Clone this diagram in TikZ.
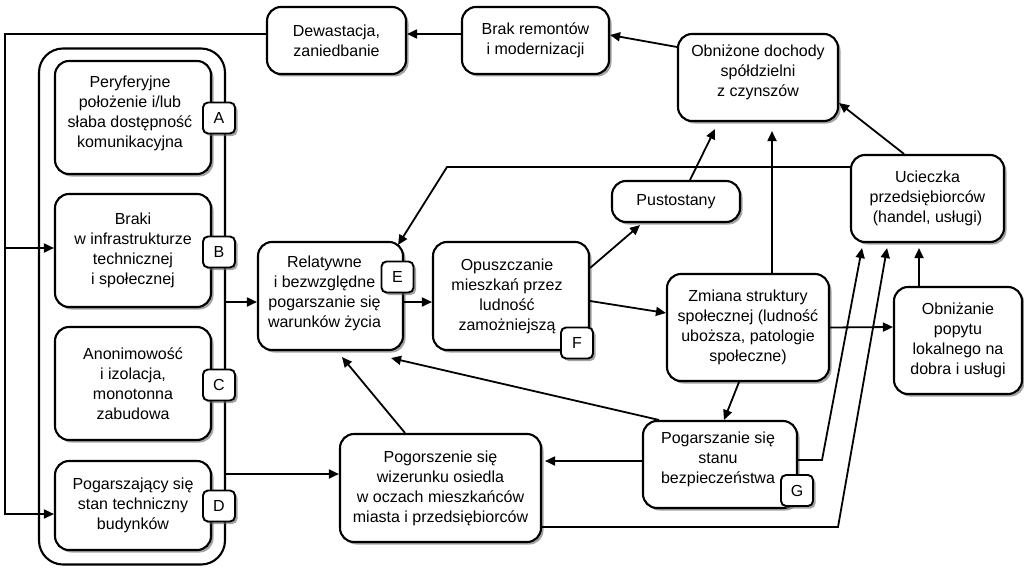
\documentclass[tikz,border=0pt]{standalone}
\usepackage{fontspec}
\setmainfont{Liberation Sans}
\usetikzlibrary{shadows,arrows.meta,calc}
\begin{document}
\begin{tikzpicture}[x=1pt,y=-1pt,
  txt/.style={font=\fontsize{16}{20}\selectfont},
  shad/.style={drop shadow={shadow xshift=2.5pt,shadow yshift=-2.5pt,fill=black!60,opacity=0.6}},
  box/.style={draw,line width=2.1pt,rounded corners=14pt,fill=white,align=center,inner sep=2pt,txt,shad},
  badge/.style={draw,line width=1.9pt,rounded corners=5pt,fill=white,minimum width=32pt,minimum height=31pt,inner sep=0pt,txt,shad},
  lbl/.style={txt,align=center,inner sep=0pt},
  conn/.style={line width=1.8pt},
  arr/.style={conn,-{Triangle[length=10pt,width=9pt]}}]
\useasboundingbox (0,0) rectangle (1024,567);
\fill[white] (0,0) rectangle (1024,567);

% left container
\node[draw,line width=2.1pt,rounded corners=24pt,minimum width=186pt,minimum height=516pt,inner sep=0pt] (cont) at (132,306.5) {};

\node[box,minimum width=156pt,minimum height=113pt] (A) at (133,117.5) {};
\node[lbl] at ([xshift=-3pt,yshift=4pt]A.center) {Peryferyjne\\ położenie i/lub\\ słaba dostępność\\ komunikacyjna};
\node[box,minimum width=156pt,minimum height=113pt] (B) at (133,250.5) {Braki\\ w infrastrukturze\\ technicznej\\ i społecznej};
\node[box,minimum width=156pt,minimum height=113pt] (C) at (133,383.5) {Anonimowość\\ i izolacja,\\ monotonna\\ zabudowa};
\node[box,minimum width=156pt,minimum height=89pt] (D) at (133,505.5) {Pogarszający się\\ stan techniczny\\ budynków};
\node[badge] (bA) at (219,118) {A};
\node[badge] (bB) at (219,252) {B};
\node[badge] (bC) at (219,385) {C};
\node[badge] (bD) at (219,506) {D};

% other boxes
\node[box,minimum width=139pt,minimum height=67pt] (dew) at (336.5,40.5) {Dewastacja,\\ zaniedbanie};
\node[box,minimum width=147pt,minimum height=67pt] (brak) at (535.5,40.5) {Brak remontów\\ i modernizacji};
\node[box,minimum width=160pt,minimum height=87pt] (obn) at (758,77.5) {};
\node[lbl] at ([yshift=5pt]obn.center) {Obniżone dochody\\ spółdzielni\\ z czynszów};
\node[box,minimum width=153pt,minimum height=87pt] (ucie) at (927.5,198.5) {Ucieczka\\ przedsiębiorców\\ (handel, usługi)};
\node[box,minimum width=128pt,minimum height=41pt] (pust) at (676,201.5) {Pustostany};
\node[box,minimum width=162pt,minimum height=107pt] (zmia) at (748,327.5) {Zmiana struktury\\ społecznej (ludność\\ uboższa, patologie\\ społeczne)};
\node[box,minimum width=128pt,minimum height=107pt] (popy) at (958,340.5) {Obniżanie\\ popytu\\ lokalnego na\\ dobra i usługi};
\node[box,minimum width=154pt,minimum height=87pt] (bezp) at (720,464.5) {};
\node[lbl] at ([xshift=-2pt,yshift=5pt]bezp.center) {Pogarszanie się\\ stanu\\ bezpieczeństwa};
\node[box,minimum width=201pt,minimum height=108pt] (wize) at (440.5,488) {Pogorszenie się\\ wizerunku osiedla\\ w oczach mieszkańców\\ miasta i przedsiębiorców};
\node[box,minimum width=145pt,minimum height=108pt] (rel) at (330.5,296) {};
\node[lbl] at ([xshift=-6pt,yshift=3pt]rel.center) {Relatywne\\ i bezwzględne\\ pogarszanie się\\ warunków życia};
\node[box,minimum width=156pt,minimum height=108pt] (opu) at (511,296) {};
\node[lbl] at ([xshift=-4pt]opu.center) {Opuszczanie\\ mieszkań przez\\ ludność\\ zamożniejszą};
\node[badge] (bE) at (397.5,277) {E};
\node[badge] (bF) at (577,343) {F};
\node[badge] (bG) at (797,490.5) {G};

% connectors
\coordinate (lt) at (5,34);
\coordinate (lm) at (5,248);
\coordinate (lb) at (5,514);
\draw[arr] ([yshift=6.5pt]dew.west) -- (lt) -- (lb) -- (lb -| D.west);
\draw[arr] (lm) -- (lm -| B.west);
\draw[arr] ([yshift=6.5pt]brak.west) -- ([yshift=6.5pt]dew.east);
\draw[arr] ([yshift=30.5pt]obn.west) -- ([yshift=5.5pt]brak.east);
\draw[arr] ([xshift=-23.5pt]ucie.north) -- ([yshift=-25.5pt]obn.east);
\draw[arr] ([xshift=14pt]pust.north) -- ([xshift=-43pt,yshift=-7pt]obn.south);
\draw[arr] ([xshift=24pt]zmia.north) -- ([xshift=14pt,yshift=-9pt]obn.south);
\coordinate (ub) at (447,167);
\draw[arr] ([yshift=31.5pt]ucie.west) -- (ub) -- ([xshift=-6pt,yshift=-4pt]rel.north east);
\draw[arr] ([yshift=28pt]opu.east) -- ([xshift=-36pt,yshift=-2pt]pust.south);
\draw[arr] ([yshift=-5pt]opu.east) -- ([yshift=14.5pt]zmia.west);
\draw[arr] ([yshift=-6pt]rel.east) -- ([yshift=-6pt]opu.west);
\draw[arr] ([yshift=4.5pt]cont.east) -- ([yshift=-6pt]rel.west);
\coordinate (w1) at ([yshift=14pt]wize.west);
\draw[arr] (w1 -| cont.east) -- (w1);
\draw[arr] ([xshift=-35.5pt]wize.north) -- ([xshift=11.5pt,yshift=-6pt]rel.south);
\draw[arr] ([xshift=17pt]bezp.north west) -- ([xshift=-13pt,yshift=-7pt]rel.south east);
\draw[arr] ([yshift=3.5pt]bezp.west) -- ([xshift=3pt,yshift=27pt]wize.east);
\draw[arr] ([xshift=-9pt]zmia.south) -- ([xshift=4pt]bezp.north);
\draw[arr] (zmia.east) -- ([yshift=13.5pt]popy.west);
\draw[arr] ([xshift=-39pt]popy.north) -- ([xshift=-8.5pt,yshift=-5pt]ucie.south);
\coordinate (b1) at (822,460);
\draw[arr] ([yshift=4.5pt]bezp.east) -- (b1) -- ([xshift=-65.5pt,yshift=-5pt]ucie.south);
\coordinate (b2) at (838,527);
\draw[arr] ([yshift=-39pt]wize.east) -- (b2) -- ([xshift=-40.5pt,yshift=-5pt]ucie.south);
\end{tikzpicture}
\end{document}
